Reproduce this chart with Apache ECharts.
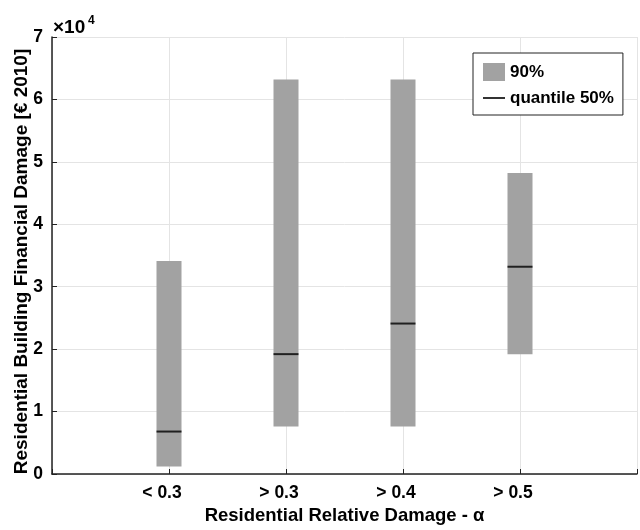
<!DOCTYPE html>
<html>
<head>
<meta charset="utf-8">
<script src="https://cdn.jsdelivr.net/npm/echarts@6/dist/echarts.min.js"></script>
<style>
  html, body { margin: 0; padding: 0; background: #fff; }
  #chart { width: 640px; height: 530px; }
</style>
</head>
<body>
<div id="chart"></div>
<script>
// Damage classes on the x axis
const categories = ['< 0.3', '> 0.3', '> 0.4', '> 0.5'];
// 90% band: lower and upper bounds (€ 2010)
const bandLow  = [1200, 7600, 7600, 19200];
const bandHigh = [34100, 63200, 63200, 48200];
// Median (quantile 50%)
const median   = [6800, 19200, 24100, 33200];
// Y tick labels in units of 10^4
const yTicks = ['0', '1', '2', '3', '4', '5', '6', '7'];

const FONT = "'Liberation Sans', Arial, sans-serif";
const chart = echarts.init(document.getElementById('chart'));

const bandData = categories.map((c, i) => [i + 1, bandLow[i], bandHigh[i]]);
const medianData = categories.map((c, i) => [i + 1, median[i]]);

chart.setOption({
  animation: false,
  backgroundColor: '#fff',
  grid: { left: 52, right: 0, top: 37, bottom: 52 },
  xAxis: {
    type: 'value',
    min: 0, max: 5, interval: 1,
    name: 'Residential Relative Damage - α',
    nameLocation: 'middle',
    nameGap: 32,
    nameMoveOverlap: false,
    nameTextStyle: { fontFamily: FONT, fontSize: 18.5, fontWeight: 'bold', color: '#000' },
    axisLine: { show: true, onZero: false, lineStyle: { color: '#222', width: 1.5 } },
    axisTick: { show: true, inside: true, length: 5, lineStyle: { color: '#222' } },
    axisLabel: {
      margin: 10, fontFamily: FONT, fontSize: 17.5, fontWeight: 'bold', color: '#000',
      padding: [0, 14, 0, 0],
      formatter: v => categories[v - 1] || ''
    },
    splitLine: { show: true, lineStyle: { color: '#e4e4e4', width: 1 } }
  },
  yAxis: {
    type: 'value',
    min: 0, max: 70000, interval: 10000,
    name: 'Residential Building Financial Damage [€ 2010]',
    nameLocation: 'middle',
    nameGap: 21,
    nameMoveOverlap: false,
    nameTextStyle: { fontFamily: FONT, fontSize: 19, fontWeight: 'bold', color: '#000', padding: [0, 12, 0, 0] },
    axisLine: { show: true, lineStyle: { color: '#222', width: 1.5 } },
    axisTick: { show: true, inside: true, length: 5, lineStyle: { color: '#222' } },
    axisLabel: {
      margin: 9, fontFamily: FONT, fontSize: 17.5, fontWeight: 'bold', color: '#000',
      formatter: v => yTicks[Math.round(v / 10000)]
    },
    splitLine: { show: true, lineStyle: { color: '#e4e4e4', width: 1 } }
  },
  legend: {
    orient: 'vertical',
    left: 473, top: 53,
    padding: [10, 9, 8, 10],
    backgroundColor: '#fff',
    borderColor: '#222',
    borderWidth: 1,
    itemWidth: 22, itemHeight: 18, itemGap: 8,
    textStyle: { fontFamily: FONT, fontSize: 17, fontWeight: 'bold', color: '#000' },
    data: [
      { name: '90%', icon: 'rect' },
      { name: 'quantile 50%', icon: 'path://M0,0M0,8L22,8L22,10L0,10ZM22,18' }
    ]
  },
  graphic: [
    { type: 'text', x: 53, y: 28, style: { text: '×10', font: 'bold 19px ' + FONT, fill: '#000', verticalAlign: 'middle' } },
    { type: 'text', x: 88, y: 21, style: { text: '4', font: 'bold 12px ' + FONT, fill: '#000', verticalAlign: 'middle' } }
  ],
  series: [
    {
      name: '90%',
      type: 'custom',
      itemStyle: { color: '#a2a2a2' },
      encode: { x: 0, y: [1, 2] },
      data: bandData,
      renderItem: (params, api) => {
        const lo = api.coord([api.value(0), api.value(1)]);
        const hi = api.coord([api.value(0), api.value(2)]);
        const w = 25;
        return {
          type: 'rect',
          shape: { x: lo[0] - w / 2, y: hi[1], width: w, height: lo[1] - hi[1] },
          style: { fill: '#a2a2a2' }
        };
      }
    },
    {
      name: 'quantile 50%',
      type: 'scatter',
      symbol: 'rect',
      symbolSize: [25, 2],
      itemStyle: { color: '#000' },
      data: medianData,
      z: 3
    }
  ]
});
</script>
</body>
</html>
